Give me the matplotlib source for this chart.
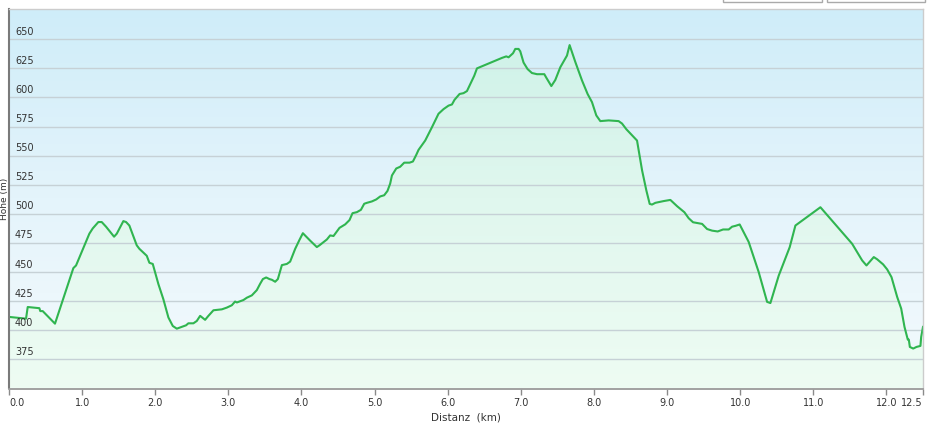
import numpy as np
import matplotlib
matplotlib.use("Agg")
import matplotlib.pyplot as plt
from matplotlib.colors import LinearSegmentedColormap
from matplotlib.patches import Rectangle
import matplotlib.transforms as mtransforms

# ---- data: distance (km) and elevation (m) ----
distance_km = [
    0.000, 0.233, 0.256, 0.415, 0.428, 0.461, 0.629, 0.880, 0.917, 1.099,
    1.145, 1.222, 1.268, 1.327, 1.437, 1.474, 1.564, 1.601, 1.646, 1.747,
    1.783, 1.884, 1.920, 1.966, 2.043, 2.111, 2.180, 2.240, 2.295, 2.363,
    2.422, 2.453, 2.522, 2.568, 2.614, 2.682, 2.727, 2.796, 2.911, 2.979,
    3.047, 3.092, 3.116, 3.206, 3.253, 3.321, 3.389, 3.435, 3.472, 3.517,
    3.562, 3.595, 3.640, 3.677, 3.708, 3.732, 3.800, 3.845, 3.914, 3.972,
    4.019, 4.119, 4.210, 4.246, 4.347, 4.392, 4.438, 4.520, 4.598, 4.657,
    4.698, 4.758, 4.813, 4.858, 4.895, 4.963, 5.022, 5.077, 5.131, 5.176,
    5.213, 5.237, 5.296, 5.350, 5.405, 5.478, 5.524, 5.569, 5.601, 5.624,
    5.692, 5.784, 5.874, 5.943, 6.011, 6.058, 6.093, 6.162, 6.216, 6.263,
    6.331, 6.363, 6.400, 6.742, 6.801, 6.832, 6.893, 6.924, 6.969, 6.992,
    7.037, 7.092, 7.152, 7.221, 7.321, 7.348, 7.417, 7.471, 7.540, 7.595,
    7.631, 7.667, 7.745, 7.836, 7.913, 7.973, 8.032, 8.087, 8.201, 8.337,
    8.384, 8.443, 8.521, 8.589, 8.658, 8.717, 8.762, 8.794, 8.840, 8.953,
    9.045, 9.137, 9.237, 9.295, 9.355, 9.410, 9.479, 9.547, 9.616, 9.692,
    9.766, 9.843, 9.889, 9.934, 9.993, 10.116, 10.253, 10.368, 10.413, 10.527,
    10.677, 10.755, 11.097, 11.531, 11.668, 11.727, 11.827, 11.873, 11.955, 12.010,
    12.069, 12.147, 12.202, 12.247, 12.292, 12.306, 12.320, 12.366, 12.411, 12.465,
    12.475, 12.500,
]
elevation_m = [
    411.5, 410.0, 420.0, 419.0, 416.5, 416.5, 405.7, 453.4, 455.7, 483.0,
    487.5, 493.0, 493.0, 489.0, 480.4, 483.0, 493.8, 493.0, 490.0, 473.0,
    470.0, 464.0, 458.0, 457.0, 439.7, 426.7, 411.0, 403.7, 401.4, 403.0,
    404.3, 406.0, 406.0, 408.0, 412.4, 409.0, 412.4, 417.2, 418.0, 419.5,
    421.5, 424.7, 423.9, 426.0, 428.0, 430.0, 434.5, 440.0, 444.0, 445.4,
    444.0, 443.4, 441.7, 444.0, 450.6, 456.0, 457.0, 459.0, 470.0, 477.6,
    483.4, 477.0, 471.5, 473.0, 478.0, 481.5, 481.0, 488.0, 491.0, 494.7,
    500.6, 501.5, 503.5, 508.7, 509.5, 510.7, 512.4, 515.0, 516.0, 519.7,
    526.0, 533.0, 539.0, 540.5, 544.0, 544.0, 545.0, 550.6, 555.0, 557.0,
    563.0, 574.4, 586.0, 590.0, 593.0, 594.0, 598.0, 603.0, 603.7, 605.5,
    614.4, 618.7, 625.0, 634.0, 635.3, 634.5, 638.0, 641.7, 641.7, 639.7,
    630.0, 624.4, 621.0, 620.0, 620.0, 617.0, 609.8, 615.0, 626.0, 632.0,
    636.0, 645.0, 630.5, 614.7, 603.0, 596.0, 584.6, 579.7, 580.3, 579.7,
    577.6, 572.7, 567.5, 563.0, 537.4, 520.0, 508.6, 508.0, 509.5, 511.0,
    512.0, 506.6, 501.4, 496.3, 492.8, 492.2, 491.4, 487.0, 485.6, 484.9,
    486.6, 486.6, 489.0, 489.7, 490.9, 475.9, 450.0, 424.4, 423.4, 447.0,
    471.4, 490.0, 505.7, 474.3, 460.0, 455.7, 462.9, 461.0, 456.6, 452.3,
    445.7, 428.6, 418.6, 402.9, 392.0, 392.0, 385.7, 384.3, 385.7, 386.6,
    394.3, 402.9,
]
y_ticks = [375, 400, 425, 450, 475, 500, 525, 550, 575, 600, 625, 650]
x_ticks = [0.0, 1.0, 2.0, 3.0, 4.0, 5.0, 6.0, 7.0, 8.0, 9.0, 10.0, 11.0, 12.0, 12.5]
x_tick_labels = ["0.0", "1.0", "2.0", "3.0", "4.0", "5.0", "6.0", "7.0",
                 "8.0", "9.0", "10.0", "11.0", "12.0", "12.5"]
x_label = "Distanz  (km)"
y_label = "Höhe (m)"

W, H = 930, 423
fig = plt.figure(figsize=(W / 100, H / 100), dpi=100, facecolor="white")
ax = fig.add_axes([9 / W, 1 - 388.5 / H, 914 / W, 379.5 / H])

xmin, xmax = 0.0, distance_km[-1]
ymin, ymax = 350, 676
ax.set_xlim(xmin, xmax)
ax.set_ylim(ymin, ymax)

# background gradient
bg_cmap = LinearSegmentedColormap.from_list("bg", ["#f4fafd", "#e4f4fb", "#cfedf9"])
grad = np.linspace(0, 1, 256).reshape(-1, 1)
ax.imshow(grad, cmap=bg_cmap, origin="lower", aspect="auto",
          extent=[xmin, xmax, ymin, ymax], zorder=0, interpolation="bilinear")

# fill under the profile with gradient
fill_poly = ax.fill_between(distance_km, elevation_m, ymin, color="none", lw=0, zorder=1)
fill_cmap = LinearSegmentedColormap.from_list("fill", ["#eefcf3", "#e0f7ee", "#ccf1e8"])
im = ax.imshow(grad, cmap=fill_cmap, origin="lower", aspect="auto",
               extent=[xmin, xmax, ymin, ymax], zorder=1, interpolation="bilinear")
paths = fill_poly.get_paths()
im.set_clip_path(paths[0], transform=ax.transData)

# gridlines
for v in y_ticks:
    ax.axhline(v, color="#c6d1d6", lw=1.0, zorder=2)

# profile line
ax.plot(distance_km, elevation_m, color="#30b550", lw=1.5, zorder=4,
        solid_joinstyle="round")

# y labels inside the plot
ytrans = mtransforms.blended_transform_factory(ax.transAxes, ax.transData)
offset = mtransforms.ScaledTranslation(6 / 100, 2.5 / 100, fig.dpi_scale_trans)
for v in y_ticks:
    ax.text(0, v, str(v), transform=ytrans + offset, ha="left", va="bottom",
            fontsize=7, color="#333333", zorder=5)
ax.set_yticks([])

# x ticks
ax.set_xticks(x_ticks)
ax.set_xticklabels(x_tick_labels, fontsize=7, color="#333333")
ax.tick_params(axis="x", direction="out", length=4, width=1, color="#8a8a8a", pad=3)
labels = ax.get_xticklabels()
labels[0].set_horizontalalignment("left")
labels[-1].set_horizontalalignment("right")

ax.set_xlabel(x_label, fontsize=7.5, color="#333333", labelpad=3)

# spines
for side in ["top", "right"]:
    ax.spines[side].set_color("#cccccc")
    ax.spines[side].set_linewidth(1.0)
ax.spines["left"].set_color("#7a7a7a")
ax.spines["left"].set_linewidth(1.5)
ax.spines["bottom"].set_color("#9a9a9a")
ax.spines["bottom"].set_linewidth(1.3)
for s in ax.spines.values():
    s.set_zorder(6)

# y axis title
fig.text(0.5 / W, 0.5 * ((1 - 388.5 / H) + (1 - 9 / H)), y_label, rotation=90,
         ha="left", va="center", fontsize=6.5, color="#333333")

# buttons at top right (cut off)
for x0, x1 in [(723, 821.5), (826.5, 925)]:
    fig.add_artist(Rectangle((x0 / W, 1 - 2 / H), (x1 - x0) / W, 10 / H,
                             transform=fig.transFigure, facecolor="white",
                             edgecolor="#aaaaaa", lw=1.0))

fig.savefig("out.png", dpi=100, facecolor="white")
